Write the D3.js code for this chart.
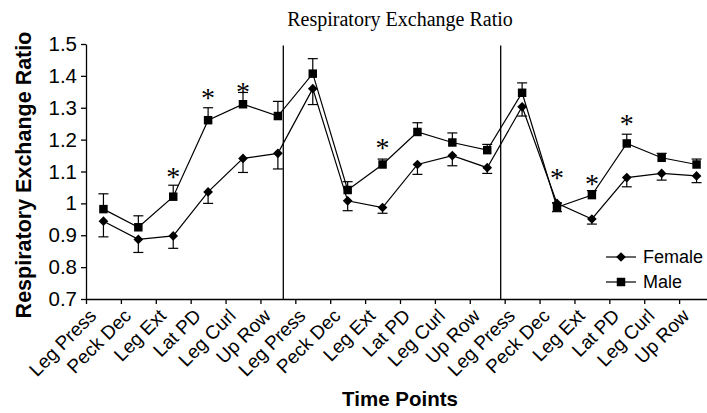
<!DOCTYPE html>
<html>
<head>
<meta charset="utf-8">
<script src="https://cdn.jsdelivr.net/npm/d3@7"></script>
<style>
    body { margin: 0; background: #fff; }
    svg { display: block; }
</style>
</head>
<body>
<div id="chart"></div>
<script>
// Respiratory exchange ratio by time point, female vs male
var exercises = ['Leg Press', 'Peck Dec', 'Leg Ext', 'Lat PD', 'Leg Curl', 'Up Row'];
var categories = exercises.concat(exercises, exercises);

var femaleMean = [0.944, 0.887, 0.898, 1.036, 1.141, 1.157,
                  1.360, 1.008, 0.987, 1.122, 1.150, 1.112,
                  1.303, 1.000, 0.951, 1.081, 1.094, 1.086];
var femaleErr  = [0.049, 0.041, 0.039, 0.036, 0.044, 0.049,
                  0.050, 0.031, 0.018, 0.031, 0.032, 0.018,
                  0.029, 0.026, 0.016, 0.029, 0.021, 0.021];

var maleMean   = [0.982, 0.925, 1.021, 1.261, 1.311, 1.274,
                  1.407, 1.042, 1.122, 1.224, 1.191, 1.167,
                  1.347, 0.988, 1.026, 1.188, 1.143, 1.122];
var maleErr    = [0.048, 0.036, 0.036, 0.039, 0.037, 0.046,
                  0.047, 0.026, 0.017, 0.029, 0.030, 0.018,
                  0.031, 0.014, 0.014, 0.029, 0.014, 0.017];

// significance marks: category index and the level they sit at
var sigIndex = [2, 3, 4, 8, 13, 14, 15];
var sigLevel = [1.097, 1.346, 1.365, 1.189, 1.096, 1.076, 1.265];

// session dividers, in category units
var dividers = [5.655, 11.886];

var yTicks = [0.7, 0.8, 0.9, 1.0, 1.1, 1.2, 1.3, 1.4, 1.5];

var W = 707, H = 413;
// note: plain "top" clashes with window.top
var plotL = 86, plotR = 714, plotT = 44, plotB = 299;

var svg = d3.select('#chart').append('svg')
    .attr('width', W)
    .attr('height', H);

var x = d3.scaleLinear().domain([0, categories.length]).range([plotL, plotR]);
var y = d3.scaleLinear().domain([0.7, 1.5]).range([plotB, plotT]);
var cx = function (i) { return x(i + 0.5); };

var sans = 'Liberation Sans, Arial, sans-serif';
var serif = 'Liberation Serif, Times New Roman, serif';

// title
svg.append('text')
    .attr('x', 400).attr('y', 26)
    .attr('text-anchor', 'middle')
    .style('font-family', serif)
    .style('font-size', '20px')
    .text('Respiratory Exchange Ratio');

// y axis
var yAxis = svg.append('g')
    .attr('transform', 'translate(' + plotL + ',0)')
    .call(d3.axisLeft(y).tickValues(yTicks).tickSize(5).tickSizeOuter(0)
        .tickFormat(d3.format('~g')));
yAxis.selectAll('text')
    .attr('x', -9)
    .style('font-family', sans)
    .style('font-size', '20.5px')
    .attr('fill', '#000');
yAxis.selectAll('line, path').attr('stroke', '#000').attr('stroke-width', 1.3);

// x axis, ticks on category boundaries
var xAxis = svg.append('g')
    .attr('transform', 'translate(0,' + plotB + ')')
    .call(d3.axisBottom(x).tickValues(d3.range(0, categories.length + 1))
        .tickSize(5).tickSizeOuter(0).tickFormat(''));
xAxis.selectAll('line, path').attr('stroke', '#000').attr('stroke-width', 1.3);

svg.append('g').selectAll('text')
    .data(categories)
    .enter().append('text')
    .attr('transform', function (d, i) {
        return 'translate(' + (cx(i) - 6) + ',' + (plotB + 18) + ') rotate(-45)';
    })
    .attr('text-anchor', 'end')
    .style('font-family', sans)
    .style('font-size', '19px')
    .text(function (d) { return d; });

// axis titles
svg.append('text')
    .attr('transform', 'translate(31,175) rotate(-90)')
    .attr('text-anchor', 'middle')
    .style('font-family', sans)
    .style('font-size', '21.5px')
    .style('font-weight', 'bold')
    .text('Respiratory Exchange Ratio');

svg.append('text')
    .attr('x', 400).attr('y', 406)
    .attr('text-anchor', 'middle')
    .style('font-family', sans)
    .style('font-size', '20.5px')
    .style('font-weight', 'bold')
    .text('Time Points');

// dividers between sessions
svg.append('g').selectAll('line')
    .data(dividers)
    .enter().append('line')
    .attr('x1', function (d) { return x(d); })
    .attr('x2', function (d) { return x(d); })
    .attr('y1', y(1.495))
    .attr('y2', y(0.7))
    .attr('stroke', '#000')
    .attr('stroke-width', 1.3);

var line = d3.line()
    .x(function (d, i) { return cx(i); })
    .y(function (d) { return y(d); });

// error bars: male upward, female downward
var errBars = function (mean, err, dir) {
    var g = svg.append('g').attr('stroke', '#000').attr('stroke-width', 1.2);
    g.selectAll('line.v')
        .data(mean)
        .enter().append('line')
        .attr('class', 'v')
        .attr('x1', function (d, i) { return cx(i); })
        .attr('x2', function (d, i) { return cx(i); })
        .attr('y1', function (d) { return y(d); })
        .attr('y2', function (d, i) { return y(d + dir * err[i]); });
    g.selectAll('line.c')
        .data(mean)
        .enter().append('line')
        .attr('class', 'c')
        .attr('x1', function (d, i) { return cx(i) - 5; })
        .attr('x2', function (d, i) { return cx(i) + 5; })
        .attr('y1', function (d, i) { return y(d + dir * err[i]); })
        .attr('y2', function (d, i) { return y(d + dir * err[i]); });
};

errBars(femaleMean, femaleErr, -1);
errBars(maleMean, maleErr, 1);

svg.append('path')
    .datum(femaleMean)
    .attr('d', line)
    .attr('fill', 'none')
    .attr('stroke', '#000')
    .attr('stroke-width', 1.2);

svg.append('path')
    .datum(maleMean)
    .attr('d', line)
    .attr('fill', 'none')
    .attr('stroke', '#000')
    .attr('stroke-width', 1.2);

var diamond = d3.symbol().type(d3.symbolDiamond2).size(60);
var square = d3.symbol().type(d3.symbolSquare).size(72);

svg.append('g').selectAll('path')
    .data(femaleMean)
    .enter().append('path')
    .attr('d', diamond)
    .attr('transform', function (d, i) { return 'translate(' + cx(i) + ',' + y(d) + ')'; })
    .attr('fill', '#000');

svg.append('g').selectAll('path')
    .data(maleMean)
    .enter().append('path')
    .attr('d', square)
    .attr('transform', function (d, i) { return 'translate(' + cx(i) + ',' + y(d) + ')'; })
    .attr('fill', '#000');

// asterisks
svg.append('g').selectAll('text')
    .data(sigIndex)
    .enter().append('text')
    .attr('x', function (d) { return cx(d); })
    .attr('y', function (d, i) { return y(sigLevel[i]) + 14; })
    .attr('text-anchor', 'middle')
    .style('font-family', serif)
    .style('font-size', '28px')
    .style('font-weight', '300')
    .text('*');

// legend
var legend = [
    { name: 'Female', sym: diamond, ly: 257 },
    { name: 'Male', sym: square, ly: 282 }
];
var lg = svg.append('g').selectAll('g')
    .data(legend)
    .enter().append('g')
    .attr('transform', function (d) { return 'translate(606,' + d.ly + ')'; });
lg.append('line')
    .attr('x1', 0).attr('x2', 30)
    .attr('stroke', '#000')
    .attr('stroke-width', 1.2);
lg.append('path')
    .attr('d', function (d) { return d.sym(); })
    .attr('transform', 'translate(15,0)');
lg.append('text')
    .attr('x', 37)
    .attr('dy', '0.35em')
    .style('font-family', sans)
    .style('font-size', '18px')
    .text(function (d) { return d.name; });
</script>
</body>
</html>
